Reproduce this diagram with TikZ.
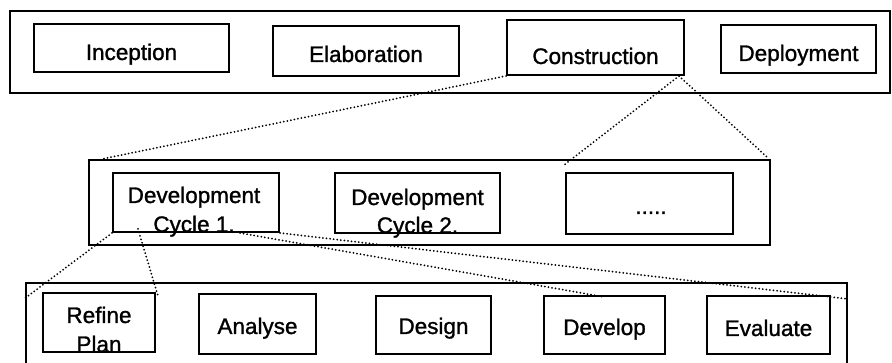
\documentclass[tikz,border=0pt]{standalone}
\usepackage{fontspec}
\setmainfont{Liberation Sans}[FakeBold=1.2,AutoFakeBold=1.2]
\usetikzlibrary{calc}
\begin{document}
\begin{tikzpicture}[x=1pt,y=-1pt,
  box/.style={draw=black,line width=2pt,inner sep=0pt,rectangle},
  txt/.style={anchor=base,inner sep=0pt,font=\fontsize{22.5}{26}\selectfont\bfseries},
  dots/.style={line width=2pt,dash pattern=on 0pt off 3.6pt,line cap=round}]
\clip (0,0) rectangle (892,363);
\fill[white] (0,0) rectangle (892,363);
% top row
\node[box,minimum width=880,minimum height=82] (top) at (450,52) {};
\node[box,minimum width=195,minimum height=48] (inc) at (131.5,48) {};
\node[box,minimum width=186,minimum height=50] (ela) at (366,51) {};
\node[box,minimum width=177,minimum height=55] (con) at (595.5,47.5) {};
\node[box,minimum width=155,minimum height=48] (dep) at (798.5,49) {};
\node[txt] (inct) at (131.5,60) {Inception};
\node[txt] (elat) at (366,62) {Elaboration};
\node[txt] (cont) at (595.5,64) {Construction};
\node[txt] (dept) at (798.5,61) {Deployment};
% middle row
\node[box,minimum width=681,minimum height=85] (mid) at (429.5,202.5) {};
\node[box,minimum width=166,minimum height=59] (dc1) at (196,202.5) {};
\node[box,minimum width=165,minimum height=60] (dc2) at (417.5,203) {};
\node[box,minimum width=167,minimum height=61] (dts) at (649.5,203.5) {};
\node[txt] (dc1a) at (194,203) {Development};
\node[txt] (dc1b) at (194,232) {Cycle 1.};
\node[txt] (dc2a) at (417.5,205) {Development};
\node[txt] (dc2b) at (417.5,233) {Cycle 2.};
\node[txt] (dtst) at (651,214) {.....};
% bottom row
\node[box,minimum width=821,minimum height=100] (bot) at (436.5,333) {};
\node[box,minimum width=112,minimum height=59] (ref) at (99,322.5) {};
\node[box,minimum width=117,minimum height=60] (ana) at (257.5,324) {};
\node[box,minimum width=115,minimum height=58] (des) at (433.5,325) {};
\node[box,minimum width=121,minimum height=58] (dev) at (604.5,325) {};
\node[box,minimum width=123,minimum height=58] (eva) at (768.5,325) {};
\node[txt] (refa) at (99,323) {Refine};
\node[txt] (refb) at (99,352) {Plan};
\node[txt] (anat) at (257.5,334) {Analyse};
\node[txt] (dest) at (433.5,334) {Design};
\node[txt] (devt) at (604.5,335) {Develop};
\node[txt] (evat) at (768.5,336) {Evaluate};
% dotted connectors
\draw[dots] (con.south west) -- ($(mid.north west)+(14,0)$);
\coordinate (apex) at ($(con.south east)+(-6,0)$);
\draw[dots] (apex) -- ($(dts.north west)+(-1,-7)$);
\draw[dots] (apex) -- ($(mid.north east)+(-3,-1)$);
\draw[dots] (dc1.south west) -- ($(bot.north west)+(-1,17)$);
\draw[dots] ($(dc1.south west)+(26,-4)$) -- ($(ref.north east)+(2,4)$);
\draw[dots] ($(dc1.south)+(44,0)$) -- ($(dev.north)+(0,2)$);
\draw[dots] (dc1.south east) -- ($(bot.north east)+(0,17)$);
\end{tikzpicture}
\end{document}
